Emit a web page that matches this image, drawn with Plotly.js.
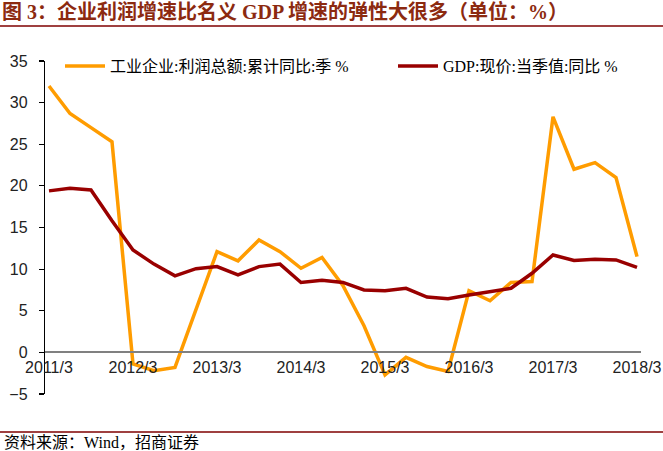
<!DOCTYPE html>
<html>
<head>
<meta charset="utf-8">
<script src="https://cdn.plot.ly/plotly-3.0.1.min.js"></script>
<style>html,body{margin:0;padding:0;background:#fff;}#chart{width:663px;height:451px;}</style>
</head>
<body>
<div id="chart"></div>
<script>
// Quarter labels 2011/3 ... 2018/3
const quarters = ["2011/3","2011/6","2011/9","2011/12","2012/3","2012/6","2012/9","2012/12",
  "2013/3","2013/6","2013/9","2013/12","2014/3","2014/6","2014/9","2014/12",
  "2015/3","2015/6","2015/9","2015/12","2016/3","2016/6","2016/9","2016/12",
  "2017/3","2017/6","2017/9","2017/12","2018/3"];
const tickLabels = ["2011/3","2012/3","2013/3","2014/3","2015/3","2016/3","2017/3","2018/3"];
const profitName = "工业企业:利润总额:累计同比:季 %";
const profitValues = [32.0, 28.7, 27.0, 25.3, -1.4, -2.2, -1.8, 5.3,
  12.1, 11.0, 13.5, 12.1, 10.1, 11.4, 8.0, 3.2,
  -2.7, -0.6, -1.7, -2.3, 7.4, 6.2, 8.4, 8.5,
  28.3, 22.0, 22.8, 21.0, 11.5];
const gdpName = "GDP:现价:当季值:同比 %";
const gdpValues = [19.4, 19.7, 19.5, 15.8, 12.3, 10.6, 9.2, 10.05,
  10.3, 9.3, 10.3, 10.6, 8.4, 8.65, 8.4, 7.5,
  7.4, 7.7, 6.65, 6.45, 6.9, 7.25, 7.7, 9.5,
  11.7, 11.05, 11.2, 11.1, 10.2];
const titleText = "图 3：企业利润增速比名义 GDP 增速的弹性大很多（单位：%）";
const sourceText = "资料来源：Wind，招商证券";

const idx = quarters.map((q, i) => i);
const tickVals = tickLabels.map(t => quarters.indexOf(t));

const W = 663, H = 451;
const L = 45, R = 22, T = 61, B = 57;
const pw = W - L - R, ph = H - T - B;
const px = x => (x - L) / pw;
const py = y => (H - B - y) / ph;

const serif = "Liberation Serif, 'Noto Sans CJK SC', serif";
const sans = "Liberation Sans, Arial, sans-serif";

const traces = [
  {x: idx, y: profitValues, name: profitName, type: "scatter", mode: "lines",
   line: {color: "#FF9C00", width: 3.5}, hoverinfo: "skip", legend: "legend"},
  {x: idx, y: gdpValues, name: gdpName, type: "scatter", mode: "lines",
   line: {color: "#990000", width: 3.5}, hoverinfo: "skip", legend: "legend2"}
];

const legendBase = {orientation: "h", xanchor: "left", y: py(66), yanchor: "middle",
  font: {family: serif, size: 16, color: "#000"}, bgcolor: "rgba(0,0,0,0)", itemwidth: 40};

const layout = {
  width: W, height: H,
  margin: {l: L, r: R, t: T, b: B, pad: 0},
  paper_bgcolor: "#fff", plot_bgcolor: "#fff",
  showlegend: true,
  title: {text: "<b>" + titleText + "</b>", x: 2 / W, xanchor: "left", xref: "container",
          y: 1 - 12 / H, yanchor: "middle", yref: "container",
          font: {family: serif, size: 20, color: "#8C2A10"}},
  xaxis: {range: [-0.19, 28.19], tickvals: tickVals, ticktext: tickLabels,
          anchor: "free", position: 5 / 40, showline: true, linecolor: "#808080", linewidth: 2,
          ticks: "", showgrid: false, zeroline: false,
          tickfont: {family: sans, size: 16, color: "#222"}},
  yaxis: {range: [-5, 35], dtick: 5, tick0: 0, showline: true, linecolor: "#000", linewidth: 1.2,
          ticks: "outside", ticklen: 5, tickcolor: "#000", tickwidth: 1.2,
          showgrid: false, zeroline: false, ticklabelstandoff: 8,
          tickfont: {family: sans, size: 16, color: "#222"}},
  legend: Object.assign({}, legendBase, {x: px(60)}),
  legend2: Object.assign({}, legendBase, {x: px(393)}),
  shapes: [
    {type: "line", xref: "paper", yref: "paper", x0: px(0), x1: px(W), y0: py(26), y1: py(26),
     line: {color: "#7F0000", width: 1.5}},
    {type: "line", xref: "paper", yref: "paper", x0: px(0), x1: px(W), y0: py(432), y1: py(432),
     line: {color: "#7F0000", width: 1.5}}
  ],
  annotations: [
    {text: sourceText, xref: "paper", yref: "paper", x: px(2), y: py(442), xanchor: "left",
     yanchor: "middle", showarrow: false, font: {family: serif, size: 16, color: "#000"}}
  ]
};

Plotly.newPlot("chart", traces, layout, {staticPlot: true, displayModeBar: false});
</script>
</body>
</html>
